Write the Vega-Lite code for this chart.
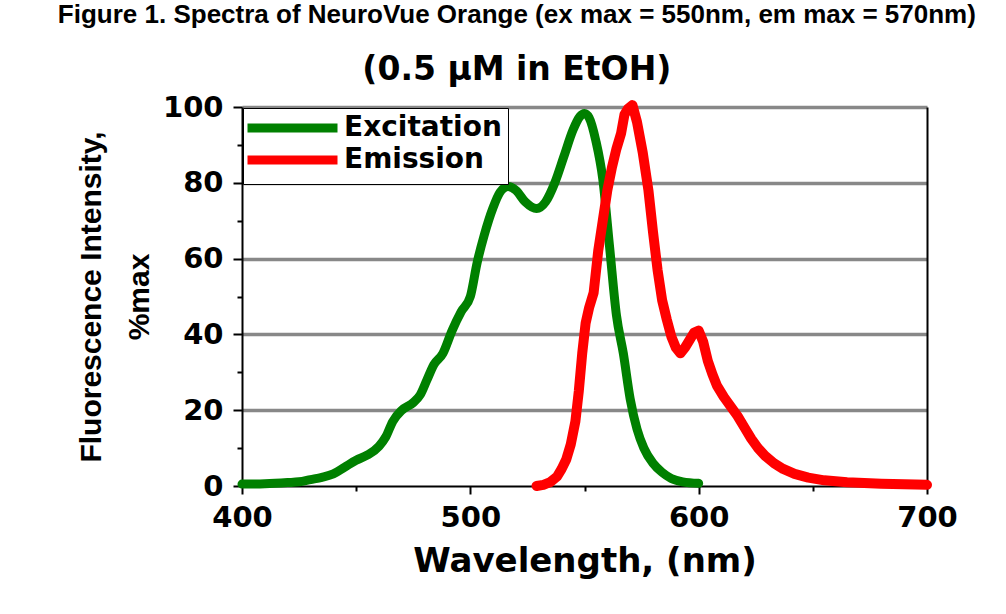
{
  "$schema": "https://vega.github.io/schema/vega-lite/v6.json",
  "autosize": "none",
  "width": 685,
  "height": 379,
  "padding": {"left": 242, "top": 107, "right": 79, "bottom": 128},
  "background": "white",
  "title": {
    "text": "Figure 1. Spectra of NeuroVue Orange (ex max = 550nm, em max = 570nm)",
    "subtitle": "(0.5 μM in EtOH)",
    "anchor": "middle",
    "frame": "bounds",
    "font": "Liberation Sans",
    "fontSize": 26,
    "fontWeight": "bold",
    "color": "black",
    "subtitleFont": "DejaVu Sans",
    "subtitleFontSize": 33,
    "subtitleFontWeight": "bold",
    "subtitleColor": "black",
    "subtitlePadding": 26,
    "offset": 6
  },
  "data": {
    "values": [
      {"series": "Excitation", "nm": 400, "v": 0.5},
      {"series": "Excitation", "nm": 410, "v": 0.6},
      {"series": "Excitation", "nm": 420, "v": 0.9},
      {"series": "Excitation", "nm": 425, "v": 1.1},
      {"series": "Excitation", "nm": 430, "v": 1.7},
      {"series": "Excitation", "nm": 435, "v": 2.3},
      {"series": "Excitation", "nm": 440, "v": 3.2},
      {"series": "Excitation", "nm": 445, "v": 5},
      {"series": "Excitation", "nm": 450, "v": 6.8},
      {"series": "Excitation", "nm": 455, "v": 8.2},
      {"series": "Excitation", "nm": 460, "v": 10.5},
      {"series": "Excitation", "nm": 463, "v": 13},
      {"series": "Excitation", "nm": 466, "v": 17},
      {"series": "Excitation", "nm": 470, "v": 20},
      {"series": "Excitation", "nm": 475, "v": 22},
      {"series": "Excitation", "nm": 478, "v": 24},
      {"series": "Excitation", "nm": 481, "v": 28},
      {"series": "Excitation", "nm": 484, "v": 32},
      {"series": "Excitation", "nm": 488, "v": 35},
      {"series": "Excitation", "nm": 492, "v": 41},
      {"series": "Excitation", "nm": 496, "v": 46},
      {"series": "Excitation", "nm": 500, "v": 50},
      {"series": "Excitation", "nm": 503, "v": 59},
      {"series": "Excitation", "nm": 506, "v": 66},
      {"series": "Excitation", "nm": 510, "v": 73.5},
      {"series": "Excitation", "nm": 513, "v": 77.5},
      {"series": "Excitation", "nm": 516.5, "v": 79},
      {"series": "Excitation", "nm": 520, "v": 78},
      {"series": "Excitation", "nm": 524, "v": 75},
      {"series": "Excitation", "nm": 529, "v": 73.2},
      {"series": "Excitation", "nm": 533, "v": 75},
      {"series": "Excitation", "nm": 537, "v": 80},
      {"series": "Excitation", "nm": 541, "v": 87},
      {"series": "Excitation", "nm": 545, "v": 94},
      {"series": "Excitation", "nm": 548, "v": 97.5},
      {"series": "Excitation", "nm": 550, "v": 98.3},
      {"series": "Excitation", "nm": 552, "v": 97.2},
      {"series": "Excitation", "nm": 555, "v": 91},
      {"series": "Excitation", "nm": 558, "v": 81},
      {"series": "Excitation", "nm": 561, "v": 63},
      {"series": "Excitation", "nm": 564, "v": 45},
      {"series": "Excitation", "nm": 567, "v": 35},
      {"series": "Excitation", "nm": 570, "v": 23},
      {"series": "Excitation", "nm": 573, "v": 15},
      {"series": "Excitation", "nm": 576, "v": 10},
      {"series": "Excitation", "nm": 580, "v": 6},
      {"series": "Excitation", "nm": 584, "v": 3.6},
      {"series": "Excitation", "nm": 588, "v": 2},
      {"series": "Excitation", "nm": 593, "v": 1.1},
      {"series": "Excitation", "nm": 600, "v": 0.7},
      {"series": "Emission", "nm": 529, "v": 0},
      {"series": "Emission", "nm": 532, "v": 0.3},
      {"series": "Emission", "nm": 535, "v": 1},
      {"series": "Emission", "nm": 538, "v": 2.5},
      {"series": "Emission", "nm": 540, "v": 4.5},
      {"series": "Emission", "nm": 542, "v": 7},
      {"series": "Emission", "nm": 544, "v": 11},
      {"series": "Emission", "nm": 546, "v": 17},
      {"series": "Emission", "nm": 547.5, "v": 25},
      {"series": "Emission", "nm": 549, "v": 35},
      {"series": "Emission", "nm": 550.5, "v": 43},
      {"series": "Emission", "nm": 552, "v": 47},
      {"series": "Emission", "nm": 554, "v": 51},
      {"series": "Emission", "nm": 556, "v": 62},
      {"series": "Emission", "nm": 558, "v": 70},
      {"series": "Emission", "nm": 560, "v": 78},
      {"series": "Emission", "nm": 562, "v": 84},
      {"series": "Emission", "nm": 564, "v": 89},
      {"series": "Emission", "nm": 566, "v": 93},
      {"series": "Emission", "nm": 567.5, "v": 98},
      {"series": "Emission", "nm": 569, "v": 99.5},
      {"series": "Emission", "nm": 571, "v": 100.5},
      {"series": "Emission", "nm": 573, "v": 96},
      {"series": "Emission", "nm": 575.5, "v": 88},
      {"series": "Emission", "nm": 578, "v": 78},
      {"series": "Emission", "nm": 580, "v": 67},
      {"series": "Emission", "nm": 582, "v": 57},
      {"series": "Emission", "nm": 584, "v": 49},
      {"series": "Emission", "nm": 586, "v": 44},
      {"series": "Emission", "nm": 588, "v": 39.5},
      {"series": "Emission", "nm": 590, "v": 36.5},
      {"series": "Emission", "nm": 592, "v": 35},
      {"series": "Emission", "nm": 594, "v": 36.5},
      {"series": "Emission", "nm": 596, "v": 38.5},
      {"series": "Emission", "nm": 598, "v": 40.5},
      {"series": "Emission", "nm": 600, "v": 41},
      {"series": "Emission", "nm": 602, "v": 38},
      {"series": "Emission", "nm": 604, "v": 33},
      {"series": "Emission", "nm": 606, "v": 29.5},
      {"series": "Emission", "nm": 608, "v": 26.5},
      {"series": "Emission", "nm": 611, "v": 23.5},
      {"series": "Emission", "nm": 614, "v": 21},
      {"series": "Emission", "nm": 617, "v": 18.5},
      {"series": "Emission", "nm": 620, "v": 15.5},
      {"series": "Emission", "nm": 623, "v": 12.5},
      {"series": "Emission", "nm": 626, "v": 10},
      {"series": "Emission", "nm": 629, "v": 8},
      {"series": "Emission", "nm": 633, "v": 6},
      {"series": "Emission", "nm": 637, "v": 4.5},
      {"series": "Emission", "nm": 642, "v": 3.2},
      {"series": "Emission", "nm": 648, "v": 2.2},
      {"series": "Emission", "nm": 655, "v": 1.5},
      {"series": "Emission", "nm": 665, "v": 1},
      {"series": "Emission", "nm": 680, "v": 0.6},
      {"series": "Emission", "nm": 700, "v": 0.3}
    ]
  },
  "encoding": {
    "x": {
      "field": "nm",
      "type": "quantitative",
      "scale": {"domain": [400, 700], "nice": false, "zero": false},
      "axis": {
        "title": "Wavelength, (nm)",
        "values": [400, 450, 500, 550, 600, 650, 700],
        "labelExpr": "datum.value % 100 === 0 ? datum.label : ''",
        "grid": false,
        "domainColor": "black",
        "domainWidth": 2,
        "tickColor": "black",
        "tickWidth": 2,
        "tickSize": {"condition": {"test": "datum.value % 100 === 0", "value": 8}, "value": 5},
        "labelFont": "DejaVu Sans",
        "labelFontWeight": "bold",
        "labelFontSize": 29,
        "labelColor": "black",
        "labelPadding": 9,
        "labelFlush": false,
        "labelOverlap": false,
        "titleFont": "DejaVu Sans",
        "titleFontWeight": "bold",
        "titleFontSize": 34,
        "titleColor": "black",
        "titlePadding": 12
      }
    },
    "y": {
      "field": "v",
      "type": "quantitative",
      "scale": {"domain": [0, 100], "nice": false},
      "axis": {
        "title": ["Fluorescence Intensity,", "%max"],
        "values": [0, 10, 20, 30, 40, 50, 60, 70, 80, 90, 100],
        "labelExpr": "datum.value % 20 === 0 ? datum.label : ''",
        "grid": true,
        "gridColor": "#888888",
        "gridWidth": 3.5,
        "gridOpacity": {"condition": {"test": "datum.value % 20 === 0 && datum.value > 0", "value": 1}, "value": 0},
        "domainColor": "black",
        "domainWidth": 2,
        "tickColor": "black",
        "tickWidth": 2,
        "tickSize": {"condition": {"test": "datum.value % 20 === 0", "value": 9}, "value": 5},
        "labelFont": "DejaVu Sans",
        "labelFontWeight": "bold",
        "labelFontSize": 29,
        "labelColor": "black",
        "labelPadding": 10,
        "labelFlush": false,
        "labelOverlap": false,
        "titleFont": "Liberation Sans",
        "titleFontWeight": "bold",
        "titleFontSize": 30,
        "titleColor": "black",
        "titleLineHeight": 48,
        "titlePadding": 8
      }
    },
    "color": {
      "field": "series",
      "type": "nominal",
      "scale": {"domain": ["Excitation", "Emission"], "range": ["#008000", "#ff0000"]},
      "legend": {
        "title": null,
        "orient": "top-left",
        "offset": 1,
        "strokeColor": "black",
        "fillColor": "white",
        "padding": 6,
        "symbolType": "M-7.5,0L7.5,0",
        "symbolSize": 144,
        "symbolStrokeWidth": 9,
        "symbolOffset": 29.5,
        "labelOffset": 37.5,
        "labelFont": "DejaVu Sans",
        "labelFontWeight": "bold",
        "labelFontSize": 28,
        "labelColor": "black",
        "rowPadding": -4
      }
    }
  },
  "layer": [
    {
      "transform": [{"filter": "datum.series === 'Excitation'"}],
      "mark": {"type": "line", "strokeWidth": 9, "strokeCap": "round", "strokeJoin": "round", "interpolate": "monotone"}
    },
    {
      "transform": [{"filter": "datum.series === 'Emission'"}],
      "mark": {"type": "line", "strokeWidth": 10, "strokeCap": "round", "strokeJoin": "round"},
      "encoding": {
        "y": {
          "field": "v",
          "type": "quantitative",
          "axis": {"orient": "right", "title": null, "labels": false, "ticks": false, "grid": false, "domainColor": "black", "domainWidth": 2}
        }
      }
    }
  ],
  "resolve": {"axis": {"y": "independent"}},
  "config": {"view": {"stroke": null}}
}
